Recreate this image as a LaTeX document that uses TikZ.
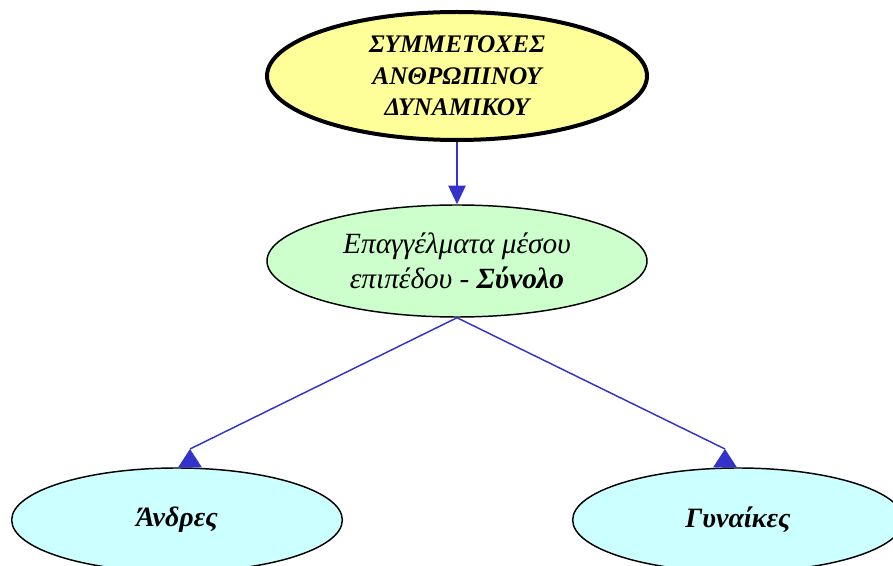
\documentclass[tikz,border=0pt]{standalone}
\usepackage{fontspec}
\setmainfont{Liberation Serif}
\usetikzlibrary{shapes.geometric,arrows.meta}
\definecolor{topfill}{HTML}{FFFF99}
\definecolor{midfill}{HTML}{CCFFCC}
\definecolor{leaffill}{HTML}{CCFFFF}
\definecolor{edgeblue}{HTML}{3333CC}
\tikzset{
  ell/.style={ellipse, draw=black, inner sep=0pt, align=center, text=black},
  topell/.style={ell, line width=3pt, fill=topfill, minimum width=285pt, minimum height=96pt,
    font=\fontsize{19}{23.5}\selectfont\bfseries\itshape},
  midell/.style={ell, line width=1.1pt, fill=midfill, minimum width=285pt, minimum height=84pt,
    font=\fontsize{22}{26}\selectfont\itshape},
  leafell/.style={ell, line width=1.1pt, fill=leaffill, minimum width=248pt, minimum height=78pt,
    font=\fontsize{21}{24}\selectfont\bfseries\itshape},
  conn/.style={draw=edgeblue, line width=1.1pt},
  tip/.style={fill=edgeblue, draw=none},
}
\begin{document}
\begin{tikzpicture}[x=0.75pt,y=-0.75pt]
\useasboundingbox (0,0) rectangle (893,566);
\node[topell] (top) at (457,76) {ΣΥΜΜΕΤΟΧΕΣ\\ΑΝΘΡΩΠΙΝΟΥ\\ΔΥΝΑΜΙΚΟΥ};
\node[midell] (mid) at (457,261) {Επαγγέλματα μέσου\\επιπέδου - \textbf{Σύνολο}};
\node[leafell] (men) at (177,520) {Άνδρες};
\node[leafell] (women) at (738,520) {Γυναίκες};
\coordinate (mentip) at (190,449);
\coordinate (womentip) at (725,449);
\draw[conn, -{Triangle[length=14pt,width=13pt]}] (top.south) -- (mid.north);
\draw[conn] (mid.south) -- (mentip);
\draw[conn] (mid.south) -- (womentip);
\fill[tip] (mentip) -- ++(-12,18.5) -- ++(24,0) -- cycle;
\fill[tip] (womentip) -- ++(-12,18.5) -- ++(24,0) -- cycle;
\end{tikzpicture}
\end{document}
